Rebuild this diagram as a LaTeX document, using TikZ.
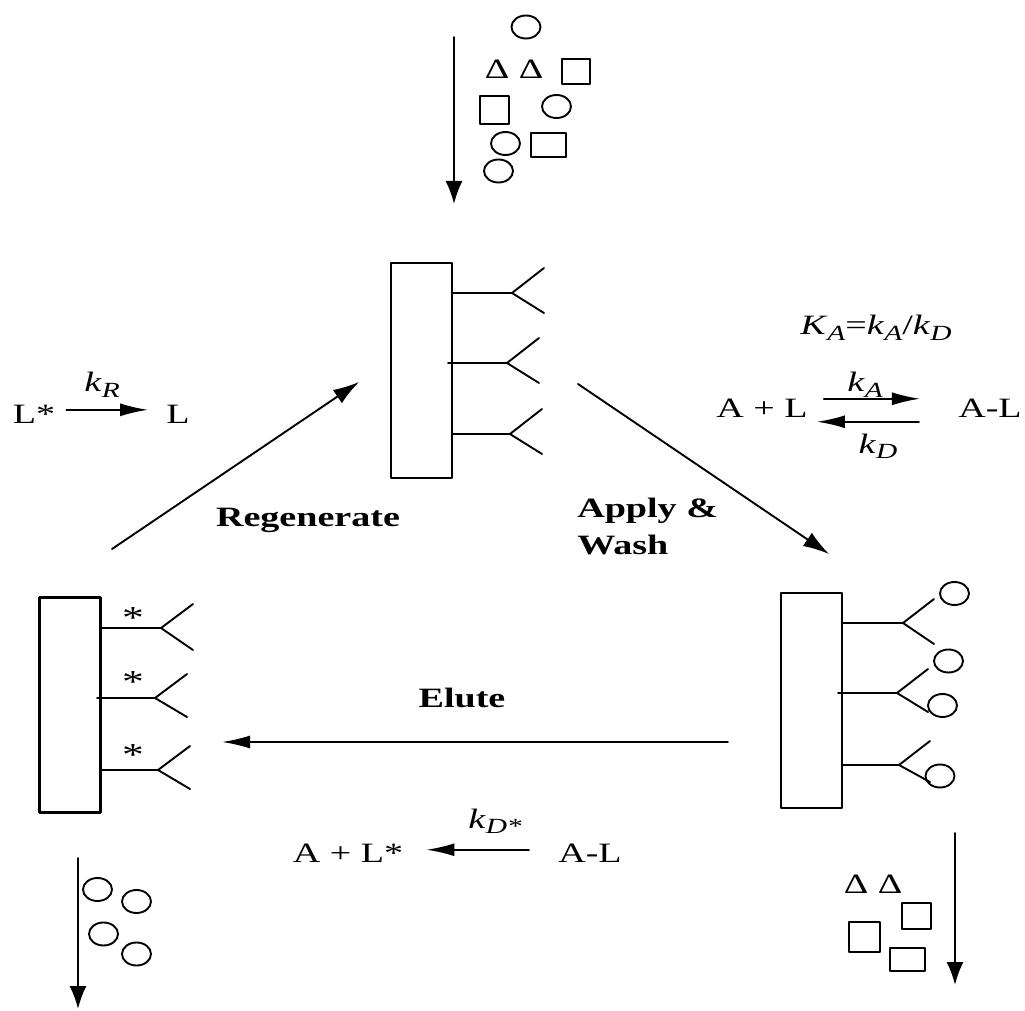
\documentclass[tikz,border=0pt]{standalone}
\usepackage{fontspec}
\setmainfont{Liberation Serif}
\usetikzlibrary{arrows.meta}

\newcommand{\rate}[1]{\textit{k}\raisebox{-0.4ex}{\fontsize{10.8}{12}\selectfont\itshape #1}}

\begin{document}
\begin{tikzpicture}[x=0.5pt, y=-0.5pt, line width=0.95pt, line cap=round, line join=round,
  lbl/.style={font=\fontsize{14}{16}\selectfont, xscale=1.36, inner sep=0pt, anchor=base},
  stage/.style={lbl, font=\fontsize{14}{16}\selectfont\bfseries},
  column/.style={draw, line width=1.3pt, inner sep=0pt, minimum width=30.5pt, minimum height=107.5pt},
  flow/.style={-{Latex[length=11.5pt, width=8.5pt]}},
  cycle/.style={-{Latex[length=13pt, width=8pt]}},
  react/.style={-{Latex[length=14pt, width=6.5pt]}}]
  \useasboundingbox (0,0) rectangle (1025,1011);

  % feed entering from the top
  \coordinate (feed-a) at (454,37);
  \coordinate (feed-b) at (454,204);
  \draw[flow] (feed-a) -- (feed-b);
  \foreach \cx/\cy in {526/27, 556.5/106.5, 505.5/143.5, 498.5/171}
    \draw (\cx,\cy) ellipse (14.5 and 11.5);
  \foreach \cx/\cy/\w/\h in {576/71.5/28/25, 494.5/110/29/28, 548.5/145/35/24}
    \draw (\cx-\w/2,\cy-\h/2) rectangle ++(\w,\h);
  \node[lbl] (tri-a) at (497,79) {Δ};
  \node[lbl] (tri-b) at (531,79) {Δ};

  % column with free ligands
  \node[column] (col-top) at (421.5,370.5) {};
  \foreach \sy/\sx/\vx in {293/452/512, 363/448/507, 434/452/510}
    \draw (\sx,\sy) -- (\vx,\sy) -- ++(32,-25) (\vx,\sy) -- ++(32,20);

  % column with bound analyte
  \node[column] (col-right) at (811.5,700.5) {};
  \foreach \sy/\sx/\vx/\dn in {623/842/903/21, 693/838/897/19, 765/842/899/17}
    \draw (\sx,\sy) -- (\vx,\sy) -- ++(31,-24) (\vx,\sy) -- ++(31,\dn);
  \foreach \cx/\cy in {954.5/593.5, 948.5/661, 942.5/705.5, 940/776}
    \draw (\cx,\cy) ellipse (14.5 and 11.5);

  % column with spent ligands
  \node[column] (col-left) at (70,705) {};
  \foreach \sy/\sx/\vx/\dn in {628/100/161/22, 698/97/155/19, 770/100/158/19}
    \draw (\sx,\sy) -- (\vx,\sy) -- ++(32,-24) (\vx,\sy) -- ++(32,\dn);
  \foreach \sy [count=\i] in {628, 692, 765}
    \node[lbl, font=\fontsize{16}{18}\selectfont] (star-\i) at (133,\sy) {*};

  % cycle arrows
  \coordinate (reg-a) at (112,549);
  \coordinate (reg-b) at (359,382);
  \draw[cycle] (reg-a) -- (reg-b);
  \node[stage] (regen) at (308,526) {Regenerate};
  \coordinate (app-a) at (578,384);
  \coordinate (app-b) at (829,554);
  \draw[cycle] (app-a) -- (app-b);
  \node[stage, anchor=base west] (apply) at (576,517) {Apply \&};
  \node[stage, anchor=base west] (wash) at (576,554) {Wash};
  \coordinate (elu-a) at (728,742);
  \coordinate (elu-b) at (222,742);
  \draw[react] (elu-a) -- (elu-b);
  \node[stage] (elute) at (462,707) {Elute};

  % regeneration step
  \node[lbl] (lstar) at (34,423) {L*};
  \node[lbl] (lfree) at (178,423) {L};
  \draw[react] ([xshift=5pt, yshift=2pt]lstar.east) -- ([xshift=-8.5pt, yshift=2pt]lfree.west);
  \node[lbl] (kr) at (102,392) {\rate{R}};

  % binding equilibrium
  \node[lbl] (keq) at (876,335) {\textit{K}\raisebox{-0.4ex}{\fontsize{10.8}{12}\selectfont\itshape A}=\rate{A}/\rate{D}};
  \node[lbl] (apl) at (762,417) {A + L};
  \node[lbl] (al) at (990,417) {A-L};
  \draw[react] ([xshift=7.5pt, yshift=4.5pt]apl.east) -- ([xshift=-18.5pt, yshift=4.5pt]al.west);
  \draw[react] ([xshift=-19pt, yshift=-7pt]al.west) -- ([xshift=4pt, yshift=-7pt]apl.east);
  \node[lbl] (ka) at (865,392) {\rate{A}};
  \node[lbl] (kd) at (878,453) {\rate{D}};

  % elution step
  \node[lbl] (apls) at (348,862) {A + L*};
  \node[lbl] (al-b) at (590,862) {A-L};
  \draw[react] ([xshift=-14pt, yshift=1.5pt]al-b.west) -- ([xshift=11pt, yshift=1.5pt]apls.east);
  \node[lbl] (kds) at (495,828) {\rate{D*}};

  % washed out impurities
  \coordinate (wash-a) at (955,833);
  \coordinate (wash-b) at (955,985);
  \draw[flow] (wash-a) -- (wash-b);
  \node[lbl] (tri-c) at (856,893) {Δ};
  \node[lbl] (tri-d) at (890,893) {Δ};
  \foreach \cx/\cy/\w/\h in {916.5/916/29/26, 864.5/937/31/30, 907.5/959.5/35/23}
    \draw (\cx-\w/2,\cy-\h/2) rectangle ++(\w,\h);

  % eluted product
  \coordinate (elu-c) at (78,858);
  \coordinate (elu-d) at (78,1009);
  \draw[flow] (elu-c) -- (elu-d);
  \foreach \cx/\cy in {97.5/889.5, 136.5/901.5, 103.5/934, 136.5/954}
    \draw (\cx,\cy) ellipse (14.5 and 11.5);
\end{tikzpicture}
\end{document}
